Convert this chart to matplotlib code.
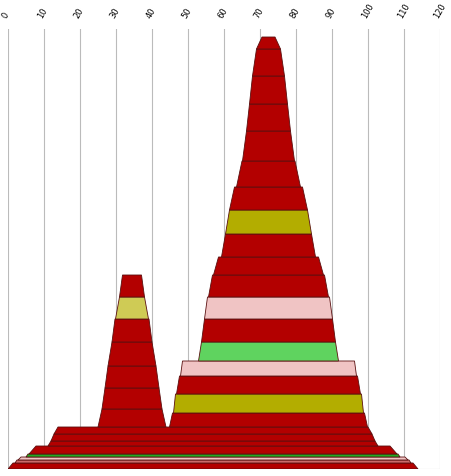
import matplotlib.pyplot as plt
from matplotlib.patches import Polygon

# x in value units, y in pixel-height units from the base
px = 3.6
red = '#b30000'

# stacks: centre (x units), then layers (y0, y1, half-width bottom, half-width top, colour); widths in px
base_c = (213 - 8) / px
base_y0 = [0, 6, 9, 12, 15, 23, 28, 35]
base_y1 = [6, 9, 12, 15, 23, 28, 35, 42]
base_w0 = [205, 198, 195, 187, 184, 165, 162, 159]
base_w1 = [200, 196, 192, 185, 177, 162, 159, 155]
base_col = [red, '#cc6a6a', '#f0c4c4', '#22aa22', red, red, red, red]

left_c = (132 - 8) / px
left_y0 = [42, 60, 81, 103, 127, 150, 172]
left_y1 = [60, 81, 103, 127, 150, 172, 194]
left_w0 = [34, 30, 27, 24, 20, 16.5, 12.5]
left_w1 = [30, 27, 24, 20, 17, 12.5, 9.5]
left_col = [red, red, red, red, red, '#cfcb55', red]

right_c = (268.5 - 8) / px
right_y0 = [42, 56, 75, 93, 108, 127, 150, 172, 194, 212, 235, 259, 282, 308, 338, 365, 393, 420]
right_y1 = [56, 75, 93, 108, 127, 150, 172, 194, 212, 235, 259, 282, 308, 338, 365, 393, 420, 432]
right_w0 = [99, 95, 92, 88, 70, 67, 64, 60, 55, 47, 43, 39, 32, 26, 22, 19, 16, 12]
right_w1 = [96, 93, 89, 86, 67, 64, 61, 56, 50, 43, 39, 34, 26.5, 22, 19, 16, 12, 6.5]
right_col = [red, '#b3ad00', red, '#f0c4c4', '#5fd35f', red, '#f0c4c4', red, red, red,
             '#b3ad00', red, red, red, red, red, red, red]

fig = plt.figure(figsize=(4.52, 4.77), dpi=100)
ax = fig.add_axes([8 / 452, 7 / 477, 432 / 452, 440 / 477])

for c, y0s, y1s, w0s, w1s, cols in [
        (base_c, base_y0, base_y1, base_w0, base_w1, base_col),
        (left_c, left_y0, left_y1, left_w0, left_w1, left_col),
        (right_c, right_y0, right_y1, right_w0, right_w1, right_col)]:
    for y0, y1, w0, w1, col in zip(y0s, y1s, w0s, w1s, cols):
        a, b = w0 / px, w1 / px
        ax.add_patch(Polygon([(c - a, y0), (c + a, y0), (c + b, y1), (c - b, y1)],
                             closed=True, facecolor=col, edgecolor='#5a1010',
                             linewidth=0.6, zorder=2))

ax.set_xlim(0, 120)
ax.set_ylim(0, 440)
ax.set_xticks(range(0, 121, 10))
ax.xaxis.tick_top()
ax.tick_params(axis='x', length=0, pad=7, labelsize=6)
plt.setp(ax.get_xticklabels(), rotation=60, ha='left', va='bottom', rotation_mode='anchor')
ax.set_yticks([])
ax.grid(axis='x', color='#bbbbbb', linewidth=0.8, zorder=0)
for s in ax.spines.values():
    s.set_visible(False)
ax.axhline(0, color='#bbbbbb', linewidth=0.8, zorder=1)

plt.savefig('out.png')
